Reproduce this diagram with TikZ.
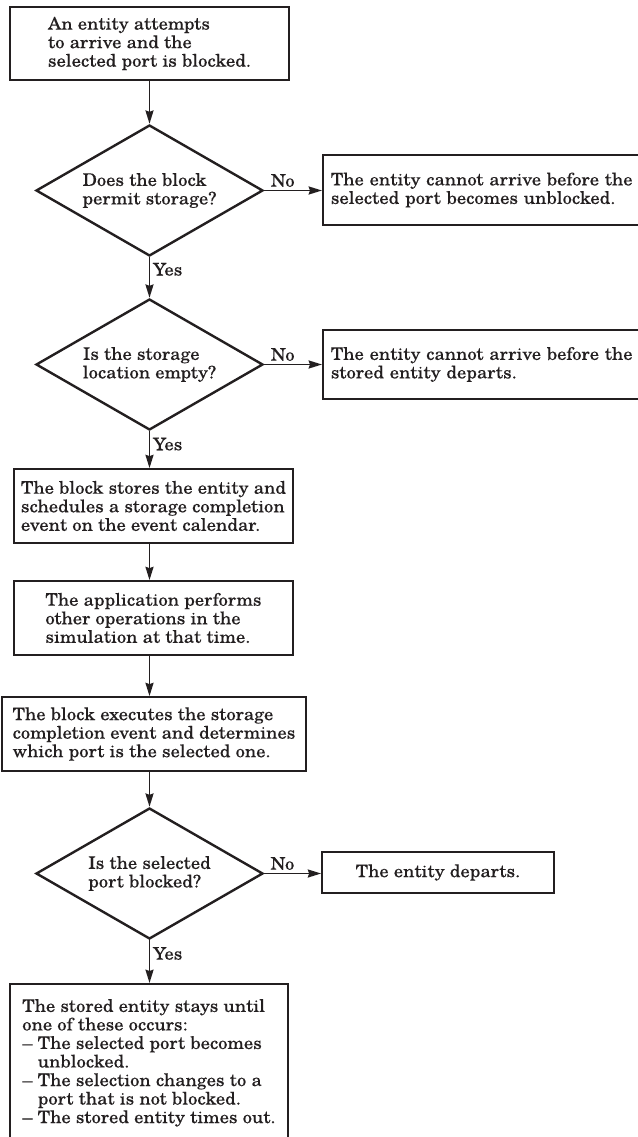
\documentclass[tikz,border=0pt]{standalone}
\usepackage{fontspec}
\setmainfont[FakeStretch=1.07,FakeBold=0.08]{TeX Gyre Schola}
\usetikzlibrary{shapes.geometric,arrows.meta}
\definecolor{ink}{HTML}{231F20}
\begin{document}
\begin{tikzpicture}[x=0.75pt,y=-0.75pt,
  font=\fontsize{13pt}{13.9pt}\selectfont,
  every node/.style={text=ink},
  procbox/.style={draw=ink,line width=1.3pt,align=left,inner sep=0pt},
  sidebox/.style={draw=ink,line width=1.3pt,align=left,inner xsep=6pt,inner ysep=0pt,text width=228pt},
  decision/.style={draw=ink,line width=1.8pt,diamond,aspect=1.73,inner sep=0pt,
     minimum width=170.25pt,minimum height=98.25pt,align=left},
  flow/.style={draw=ink,line width=1.4pt,-{Stealth[length=10pt,width=6pt,inset=1pt]}},
  lab/.style={inner sep=2pt}]
\useasboundingbox (0,0) rectangle (637,1137);

\node[procbox,minimum width=209.25pt,minimum height=54.75pt] (b1) at (149.5,43.5)
  {An entity attempts\\to arrive and the\\selected port is blocked.};
\node[decision] (d1) at (149.5,190.5) {Does the block\\permit storage?};
\node[sidebox,anchor=west,minimum height=52.5pt] (s1) at (322,190)
  {The entity cannot arrive before the\\selected port becomes unblocked.};
\node[decision] (d2) at (149.5,364.5) {Is the storage\\location empty?};
\node[sidebox,anchor=west,minimum height=51.75pt] (s2) at (322,364.5)
  {The entity cannot arrive before the\\stored entity departs.};
\node[procbox,minimum width=209.25pt,minimum height=55.5pt] (b2) at (153.5,506)
  {The block stores the entity and\\schedules a storage completion\\event on the event calendar.};
\node[procbox,minimum width=209.25pt,minimum height=55.5pt] (b3) at (153.5,618)
  {The application performs\\other operations in the\\simulation at that time.};
\node[procbox,minimum width=228pt,minimum height=55.5pt] (b4) at (154,734)
  {The block executes the storage\\completion event and determines\\which port is the selected one.};
\node[decision] (d3) at (149.5,873.5) {Is the selected\\port blocked?};
\node[procbox,minimum width=174pt,minimum height=30.75pt] (s3) at (438,872.5)
  {The entity departs.};
\node[procbox,anchor=north,minimum width=208.5pt,minimum height=118.5pt] (b5) at (149,983)
  {The stored entity stays until\\one of these occurs:\\\textendash{} The selected port becomes\\\phantom{\textendash{} }unblocked.\\\textendash{} The selection changes to a\\\phantom{\textendash{} }port that is not blocked.\\\textendash{} The stored entity times out.};

\draw[flow] (b1.south -| d1.north) -- (d1.north);
\draw[flow] (d1.east) -- node[lab,above,pos=0.32] (n1) {No} (d1.east -| s1.west);
\draw[flow] (d1.south) -- node[lab,right,pos=0.3] (y1) {Yes} (d2.north);
\draw[flow] (d2.east) -- node[lab,above,pos=0.32] (n2) {No} (d2.east -| s2.west);
\draw[flow] (d2.south) -- node[lab,right,pos=0.35] (y2) {Yes} (d2.south |- b2.north);
\draw[flow] (b2.south -| d2.south) -- (d2.south |- b3.north);
\draw[flow] (b3.south -| d2.south) -- (d2.south |- b4.north);
\draw[flow] (b4.south -| d3.north) -- (d3.north);
\draw[flow] (d3.east) -- node[lab,above,pos=0.32] (n3) {No} (d3.east -| s3.west);
\draw[flow] (d3.south) -- node[lab,right,pos=0.31] (y3) {Yes} (d3.south |- b5.north);
\end{tikzpicture}
\end{document}
